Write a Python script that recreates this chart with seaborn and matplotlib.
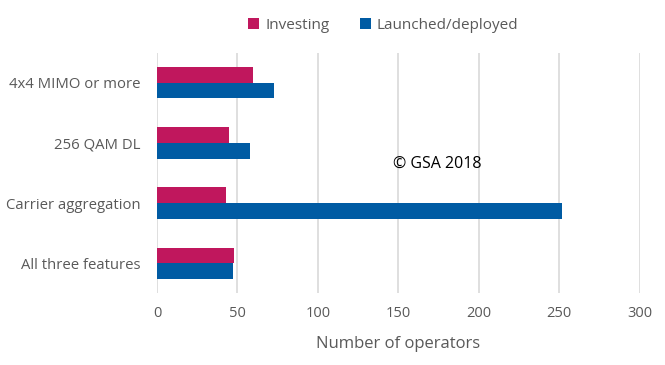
import matplotlib
matplotlib.use("Agg")
import matplotlib.pyplot as plt
import seaborn as sns
import pandas as pd

# values
features = ['4x4 MIMO or more', '256 QAM DL', 'Carrier aggregation', 'All three features']
investing = [60, 45, 43, 48]
launched = [73, 58, 252, 47]
series = ['Investing', 'Launched/deployed']
colors = ['#C0175D', '#005BA3']
xticks = [0, 50, 100, 150, 200, 250, 300]

df = pd.DataFrame({
    'feature': features * 2,
    'status': [series[0]] * len(features) + [series[1]] * len(features),
    'operators': investing + launched,
})

sns.set_style('white')
plt.rcParams['font.family'] = ['Open Sans', 'DejaVu Sans']

fig = plt.figure(figsize=(6.65, 3.65), dpi=100)
ax = fig.add_axes([0.236, 0.196, 0.726, 0.66])

sns.barplot(data=df, y='feature', x='operators', hue='status', order=features,
            hue_order=series, palette=colors, width=0.52, saturation=1,
            orient='h', linewidth=0, ax=ax, legend=True)

ax.set_xlim(0, 300)
ax.set_ylim(3.5, -0.5)
ax.set_xticks(xticks)
ax.xaxis.grid(True, color='#D9D9D9', linewidth=1.2)
ax.set_axisbelow(True)
for s in ax.spines.values():
    s.set_visible(False)
ax.tick_params(axis='both', length=0, labelsize=10.5, labelcolor='#595959')
ax.tick_params(axis='y', labelsize=10.75, pad=12)
ax.tick_params(axis='x', pad=9)
ax.set_ylabel('')
ax.set_xlabel('Number of operators', fontsize=12, color='#595959', labelpad=11)

ax.legend(loc='lower center', bbox_to_anchor=(0.469, 1.025), ncol=2, frameon=False,
          fontsize=11, labelcolor='#595959', handlelength=0.7, handleheight=0.7,
          handletextpad=0.4, columnspacing=2.0)

fig.text(0.657, 0.551, '\u00a9 GSA 2018', ha='center', va='center', fontsize=11.5,
         color='black')

fig.savefig('out.png', dpi=100)
